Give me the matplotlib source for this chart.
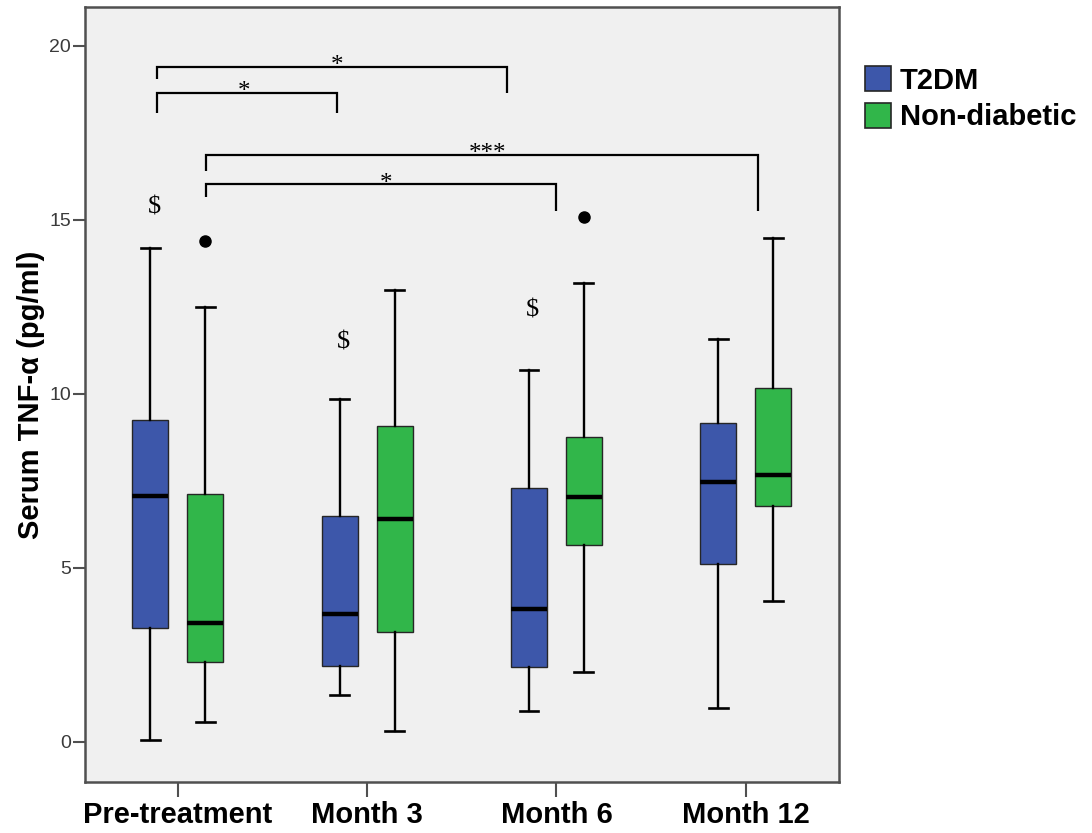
import numpy as np
import matplotlib
matplotlib.use("Agg")
import matplotlib.pyplot as plt
from matplotlib.patches import Patch

# Serum TNF-alpha (pg/ml) box-plot summaries per time point
timepoints = ["Pre-treatment", "Month 3", "Month 6", "Month 12"]
groups = ["T2DM", "Non-diabetic"]

t2dm_whislo = [0.05, 1.35, 0.87, 0.97]
t2dm_q1 = [3.26, 2.18, 2.14, 5.11]
t2dm_med = [7.07, 3.66, 3.82, 7.47]
t2dm_q3 = [9.24, 6.48, 7.28, 9.15]
t2dm_whishi = [14.19, 9.85, 10.67, 11.57]
t2dm_fliers = [[], [], [], []]

nond_whislo = [0.57, 0.30, 2.00, 4.03]
nond_q1 = [2.29, 3.14, 5.64, 6.77]
nond_med = [3.41, 6.40, 7.02, 7.67]
nond_q3 = [7.12, 9.08, 8.75, 10.17]
nond_whishi = [12.48, 12.97, 13.18, 14.48]
nond_fliers = [[14.38], [], [15.09], []]

yticks = [0, 5, 10, 15, 20]

# T2DM vs non-diabetic difference markers ("$") over the T2DM boxes
dollar_groups = [0, 1, 2]

BLUE = "#3d57aa"
GREEN = "#31b64a"
EDGE = "#262626"
SPINE = "#505050"


def make_stats(lo, q1, med, q3, hi, fl):
    return [dict(whislo=a, q1=b, med=c, q3=d, whishi=e, fliers=f)
            for a, b, c, d, e, f in zip(lo, q1, med, q3, hi, fl)]


fig = plt.figure(figsize=(10.92, 8.33), dpi=100)
ax = fig.add_axes([0.0778, 0.0616, 0.6908, 0.930])
ax.set_facecolor("#f0f0f0")

pos = np.arange(len(timepoints))
off = 0.145
bw = 0.19

common = dict(
    widths=bw,
    patch_artist=True,
    showfliers=True,
    capwidths=0.1,
    medianprops=dict(color="black", linewidth=3.2, solid_capstyle="butt"),
    whiskerprops=dict(color="black", linewidth=1.7),
    capprops=dict(color="black", linewidth=1.9),
    flierprops=dict(marker="o", markerfacecolor="black",
                    markeredgecolor="black", markersize=8),
)

ax.bxp(make_stats(t2dm_whislo, t2dm_q1, t2dm_med, t2dm_q3, t2dm_whishi, t2dm_fliers),
       positions=pos - off,
       boxprops=dict(facecolor=BLUE, edgecolor=EDGE, linewidth=1.0),
       **common)
ax.bxp(make_stats(nond_whislo, nond_q1, nond_med, nond_q3, nond_whishi, nond_fliers),
       positions=pos + off,
       boxprops=dict(facecolor=GREEN, edgecolor=EDGE, linewidth=1.0),
       **common)

# "$" marks above selected T2DM boxes
dollar_gap = {0: 1.17, 1: 1.62, 2: 1.72}
for g in dollar_groups:
    ax.text(pos[g] - off + 0.02, t2dm_whishi[g] + dollar_gap[g], "$",
            ha="center", va="center", fontsize=19,
            family="Liberation Serif", color="black")

# Significance brackets: (x start, x end, bar height, left leg end, right leg end, label, label x)
brackets = [
    (-0.11, 1.738, 19.39, 19.03, 18.63, "*", 0.84),
    (-0.11, 0.84, 18.65, 18.06, 18.06, "*", 0.352),
    (0.15, 3.066, 16.86, 16.41, 15.26, "***", 1.635),
    (0.15, 1.998, 16.02, 15.66, 15.26, "*", 1.10),
]
for x0, x1, yb, l0, l1, lab, lx in brackets:
    ax.plot([x0, x0, x1, x1], [l0, yb, yb, l1], color="black", lw=1.6,
            solid_joinstyle="miter", solid_capstyle="butt")
    ax.annotate(lab, (lx, yb), xytext=(0, -4), textcoords="offset points",
                ha="center", va="baseline", fontsize=18,
                family="Liberation Serif", color="black")

ax.set_xlim(-0.49, 3.494)
ax.set_ylim(-1.15, 21.11)
ax.set_xticks(pos)
ax.set_xticklabels(timepoints, fontsize=21, fontweight="bold",
                   family="Liberation Sans")
ax.set_yticks(yticks)
ax.set_yticklabels([str(v) for v in yticks], fontsize=14,
                   family="Liberation Sans", color="#3a3a3a")
ax.tick_params(axis="y", length=9, width=1.5, color=SPINE, pad=1)
ax.tick_params(axis="x", length=11, width=1.5, color=SPINE, pad=3)

for s in ax.spines.values():
    s.set_color(SPINE)
    s.set_linewidth(1.8)

ax.set_ylabel("Serum TNF-α (pg/ml)", fontsize=21, fontweight="bold",
              family="Liberation Sans", labelpad=3)

handles = [Patch(facecolor=BLUE, edgecolor=EDGE, linewidth=1.2),
           Patch(facecolor=GREEN, edgecolor=EDGE, linewidth=1.2)]
fig.legend(handles, groups, loc="upper left",
           bbox_to_anchor=(865 / 1092, 1 - 66 / 833),
           frameon=False, prop=dict(family="Liberation Sans", weight="bold", size=21),
           handlelength=0.9, handleheight=0.95, handletextpad=0.3,
           labelspacing=0.28, borderpad=0, borderaxespad=0)

fig.savefig("out.png", dpi=100)
